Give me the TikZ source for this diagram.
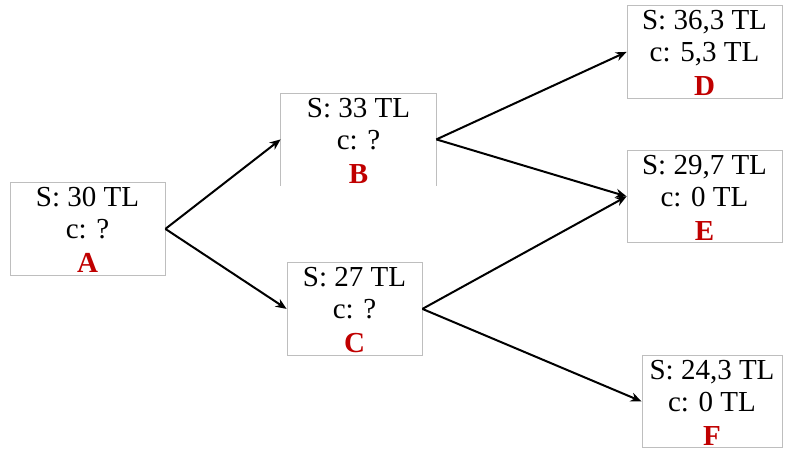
\documentclass[tikz,border=0pt]{standalone}
\usepackage{fontspec}
\setmainfont{Liberation Serif}
\usetikzlibrary{arrows.meta,calc}
\definecolor{boxgray}{RGB}{190,190,190}
\definecolor{lettred}{RGB}{192,0,0}
\tikzset{
  frame/.style={draw=boxgray, line width=0.8pt, minimum width=#1, inner sep=0pt},
  txt/.style={anchor=base, font=\fontsize{29}{34}\selectfont, inner sep=0pt},
  lett/.style={anchor=base, font=\fontsize{29}{34}\selectfont\bfseries, text=lettred, inner sep=0pt},
  arr/.style={line width=2pt, -{Stealth[length=11pt,width=9pt]}}
}
% name, cx, top, width, height, S line, c line, letter, draw option
\newcommand\treebox[9]{%
  \node[frame=#4, minimum height=#5, anchor=north, #9] (#1) at (#2,#3) {};
  \node[txt] (#1s) at ($(#1.north)+(0,24)$) {#6};
  \node[txt] (#1c) at ($(#1.north)+(0,56)$) {#7};
  \node[lett] (#1l) at ($(#1.north)+(0,90.5)$) {#8};
}
\begin{document}
\begin{tikzpicture}[x=1pt,y=-1pt]
\useasboundingbox (0,0) rectangle (789,451);
\treebox{A}{87.5}{182}{155pt}{93pt}{S: 30 TL}{c: ?}{A}{}
\treebox{B}{358.5}{93}{155pt}{92pt}{S: 33 TL}{c: ?}{B}{draw=none}
\draw[boxgray, line width=0.8pt] (B.south west) -- (B.north west) -- (B.north east) -- (B.south east);
\treebox{C}{354.5}{262}{135pt}{93pt}{S: 27 TL}{c: ?}{C}{}
\treebox{D}{704.5}{5}{155pt}{93pt}{S: 36,3 TL}{c: 5,3 TL}{D}{}
\treebox{E}{704.5}{150}{155pt}{92pt}{S: 29,7 TL}{c: 0 TL}{E}{}
\treebox{F}{712}{355}{140pt}{92pt}{S: 24,3 TL}{c: 0 TL}{F}{}
\draw[arr] (A.east) -- (B.west);
\draw[arr] (A.east) -- (C.west);
\draw[arr] (B.east) -- (D.west);
\draw[arr] (B.east) -- (E.west);
\draw[arr] (C.east) -- (E.west);
\draw[arr] (C.east) -- (F.west);
\end{tikzpicture}
\end{document}
